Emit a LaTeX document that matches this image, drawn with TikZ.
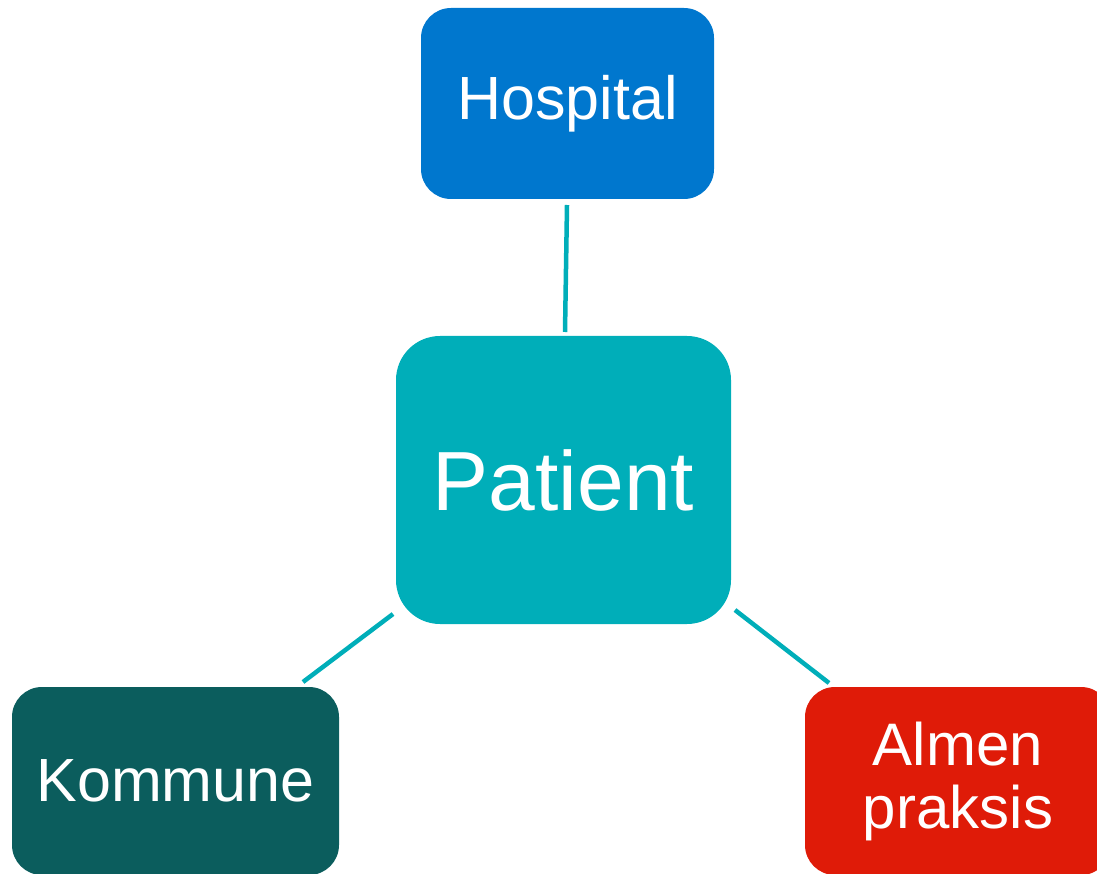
\documentclass[tikz,border=0pt]{standalone}
\usepackage{fontspec}
\setmainfont{Liberation Sans}
\definecolor{hosp}{RGB}{0,119,206}
\definecolor{pat}{RGB}{0,174,185}
\definecolor{komm}{RGB}{11,93,93}
\definecolor{almen}{RGB}{223,27,8}
\begin{document}
\begin{tikzpicture}[x=1pt,y=-1pt,
  box/.style={rectangle, rounded corners=30pt, inner sep=0pt, text=white, align=center, draw=none},
  link/.style={draw=pat, line width=4.5pt}]
\useasboundingbox (0,0) rectangle (1097,874);
\clip (0,0) rectangle (1097,874);
\node[box, fill=hosp, minimum width=293pt, minimum height=191pt, font=\fontsize{61}{64}\selectfont] (hosp) at (567.5,103.5) {Hospital};
\node[box, fill=pat, rounded corners=44pt, minimum width=335pt, minimum height=288pt, font=\fontsize{84}{88}\selectfont] (pat) at (563.5,480) {Patient};
\node[box, fill=komm, minimum width=327pt, minimum height=188pt, font=\fontsize{61}{64}\selectfont] (komm) at (175.5,781) {Kommune};
\node[box, fill=almen, minimum width=306pt, minimum height=188pt, font=\fontsize{60}{63}\selectfont] (almen) at (958,781) {Almen\\praksis};
\coordinate (h1) at (567,205);
\coordinate (h2) at (565,332);
\coordinate (k1) at (393,614);
\coordinate (k2) at (303,682);
\coordinate (a1) at (735,610);
\coordinate (a2) at (829,683);
\draw[link] (h1) -- (h2);
\draw[link] (k1) -- (k2);
\draw[link] (a1) -- (a2);
\end{tikzpicture}
\end{document}
